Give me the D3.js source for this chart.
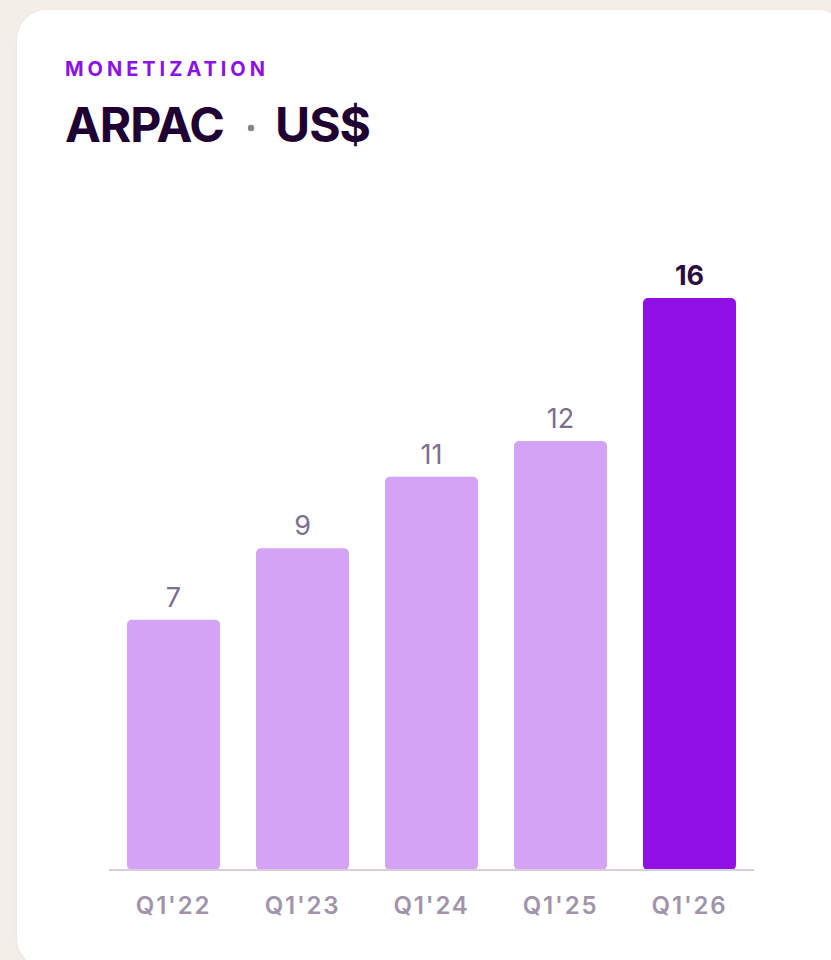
<!DOCTYPE html>
<html>
<head>
<meta charset="utf-8">
<script src="https://cdn.jsdelivr.net/npm/d3@7/dist/d3.min.js"></script>
<style>
  html, body { margin: 0; padding: 0; background: #f3eee8; }
  svg { display: block; }
  text { font-family: Inter, "Noto Sans", sans-serif; }
</style>
</head>
<body>
<script>
const categories = ["Q1'22", "Q1'23", "Q1'24", "Q1'25", "Q1'26"];
const values = [7, 9, 11, 12, 16];
const highlight = [false, false, false, false, true];
const eyebrow = "MONETIZATION";
const titleMain = "ARPAC";
const titleUnit = "US$";

const W = 831, H = 960;
const svg = d3.select("body").append("svg").attr("width", W).attr("height", H);

// background + card
svg.append("rect").attr("width", W).attr("height", H).attr("fill", "#f3eee8");
const defs = svg.append("defs");
const f = defs.append("filter").attr("id", "sh").attr("x", -0.05).attr("y", -0.05).attr("width", 1.1).attr("height", 1.1);
f.append("feDropShadow").attr("dx", 0).attr("dy", 1).attr("stdDeviation", 1.5).attr("flood-color", "#000").attr("flood-opacity", 0.06);
svg.append("rect").attr("x", 17).attr("y", 10).attr("width", 830).attr("height", 958)
  .attr("rx", 30).attr("fill", "#ffffff").attr("filter", "url(#sh)");

// fit letter-spacing so a text spans a target width
function fit(sel, target) {
  const n = sel.text().length;
  const w0 = sel.node().getComputedTextLength();
  sel.attr("letter-spacing", (target - w0) / (n - 1));
}

// titles
const eb = svg.append("text").attr("x", 65).attr("y", 76)
  .attr("fill", "#8b12e4").attr("font-size", 20).attr("font-weight", 700)
  .text(eyebrow);
fit(eb, 200);

svg.append("text").attr("x", 65).attr("y", 142)
  .attr("fill", "#1e0033").attr("font-size", 48).attr("font-weight", 700)
  .attr("letter-spacing", -1).text(titleMain);
svg.append("circle").attr("cx", 251).attr("cy", 128).attr("r", 3.2).attr("fill", "#8a7f92");
svg.append("text").attr("x", 275).attr("y", 142)
  .attr("fill", "#1e0033").attr("font-size", 48).attr("font-weight", 700)
  .attr("letter-spacing", -1).text(titleUnit);

// chart
const x0 = 109, x1 = 754, baseY = 870;
const x = d3.scaleBand().domain(categories).range([x0, x1]).paddingInner(0.279).paddingOuter(0.1395);
const y = d3.scaleLinear().domain([0, 16]).range([baseY, 298]);

const data = categories.map((c, i) => ({ c, v: values[i], h: highlight[i] }));

svg.append("g").selectAll("rect").data(data).join("rect")
  .attr("x", d => x(d.c)).attr("width", x.bandwidth())
  .attr("y", d => y(d.v)).attr("height", d => baseY - y(d.v))
  .attr("rx", 5)
  .attr("fill", d => d.h ? "#8f0fe5" : "#d4a3f5");

// axis baseline
const ax = svg.append("g").attr("transform", `translate(0,${baseY})`)
  .call(d3.axisBottom(x).tickSize(0).tickPadding(0));
ax.select(".domain").attr("stroke", "#d6cfd9").attr("stroke-width", 2)
  .attr("d", `M${x0},0H${x1}`);
ax.selectAll(".tick text")
  .attr("y", 44).attr("dy", 0)
  .attr("font-family", "Inter, sans-serif")
  .attr("font-size", 24).attr("font-weight", 600)
  .attr("letter-spacing", 1.8)
  .attr("fill", "#a194aa");

// value labels
svg.append("g").selectAll("text").data(data).join("text")
  .attr("x", d => x(d.c) + x.bandwidth() / 2)
  .attr("y", d => y(d.v) - 13)
  .attr("text-anchor", "middle")
  .attr("font-size", 27)
  .attr("font-weight", d => d.h ? 700 : 400)
  .attr("fill", d => d.h ? "#2a0e40" : "#7f6d8f")
  .text(d => d.v);
</script>
</body>
</html>
